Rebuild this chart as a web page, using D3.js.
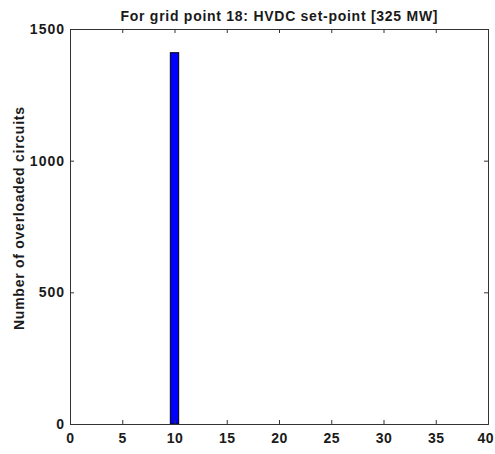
<!DOCTYPE html>
<html><head><meta charset="utf-8">
<script src="https://cdn.jsdelivr.net/npm/d3@7"></script>
<style>body{margin:0;background:#fff}text{font-family:"Liberation Sans",Arial,sans-serif;font-weight:bold;fill:#1a1a1a}</style>
</head><body>
<script>
const titleText = "For grid point 18: HVDC set-point [325 MW]";
const yLabelText = "Number of overloaded circuits";
const categories = d3.range(1, 39);
const values = categories.map(c => c === 10 ? 1410 : 0);
const xTicks = [0,5,10,15,20,25,30,35,40];
const yTicks = [0,500,1000,1500];

const W = 495, H = 454;
const m = {l:70, r:7, t:29, b:30};
const svg = d3.select("body").append("svg").attr("width", W).attr("height", H);
const x = d3.scaleLinear().domain([0,40]).range([m.l, W - m.r]);
const y = d3.scaleLinear().domain([0,1500]).range([H - m.b, m.t]);
const bw = 0.8;

svg.append("rect").attr("x", m.l).attr("y", m.t).attr("width", W-m.r-m.l).attr("height", H-m.b-m.t).attr("fill","#fff");

svg.selectAll("rect.bar").data(categories).enter().append("rect").attr("class","bar")
  .attr("x", d => x(d - bw/2)).attr("width", d => x(d + bw/2) - x(d - bw/2))
  .attr("y", (d,i) => y(values[i])).attr("height", (d,i) => y(0) - y(values[i]))
  .attr("fill", "#0000ff").attr("stroke", "#000").attr("stroke-width", 1);

const tl = 4;
const gx = svg.append("g").attr("transform", `translate(0,${H-m.b})`)
  .call(d3.axisBottom(x).tickValues(xTicks).tickSize(-tl).tickPadding(9).tickFormat(d3.format("d")));
const gx2 = svg.append("g").attr("transform", `translate(0,${m.t})`)
  .call(d3.axisTop(x).tickValues(xTicks).tickSize(-tl).tickFormat(""));
const gy = svg.append("g").attr("transform", `translate(${m.l},0)`)
  .call(d3.axisLeft(y).tickValues(yTicks).tickSize(-tl).tickPadding(5).tickFormat(d3.format("d")));
const gy2 = svg.append("g").attr("transform", `translate(${W-m.r},0)`)
  .call(d3.axisRight(y).tickValues(yTicks).tickSize(-tl).tickFormat(""));
[gx,gx2,gy,gy2].forEach(g => {
  g.selectAll(".domain").attr("stroke","#333");
  g.selectAll(".tick line").attr("stroke","#333");
  g.selectAll("text").attr("font-size", 14).attr("font-family","Liberation Sans, Arial, sans-serif")
    .attr("font-weight","bold").attr("fill","#1a1a1a").attr("letter-spacing", "1px");
});
gx.selectAll("text").attr("dy", "0.71em").attr("letter-spacing", "0.5px");
gx.selectAll(".tick").filter(d => d === 40).select("text")
  .attr("text-anchor", "end").attr("x", (W - 1.5) - x(40));

svg.append("text").attr("x", (m.l + W - m.r)/2).attr("y", 21).attr("text-anchor","middle")
  .attr("font-size", 14).attr("textLength", 317).attr("lengthAdjust","spacing").text(titleText);
svg.append("text").attr("transform", `translate(24,218.5) rotate(-90)`)
  .attr("text-anchor","middle").attr("font-size", 14).attr("textLength", 223).attr("lengthAdjust","spacing").text(yLabelText);
</script>
</body></html>
